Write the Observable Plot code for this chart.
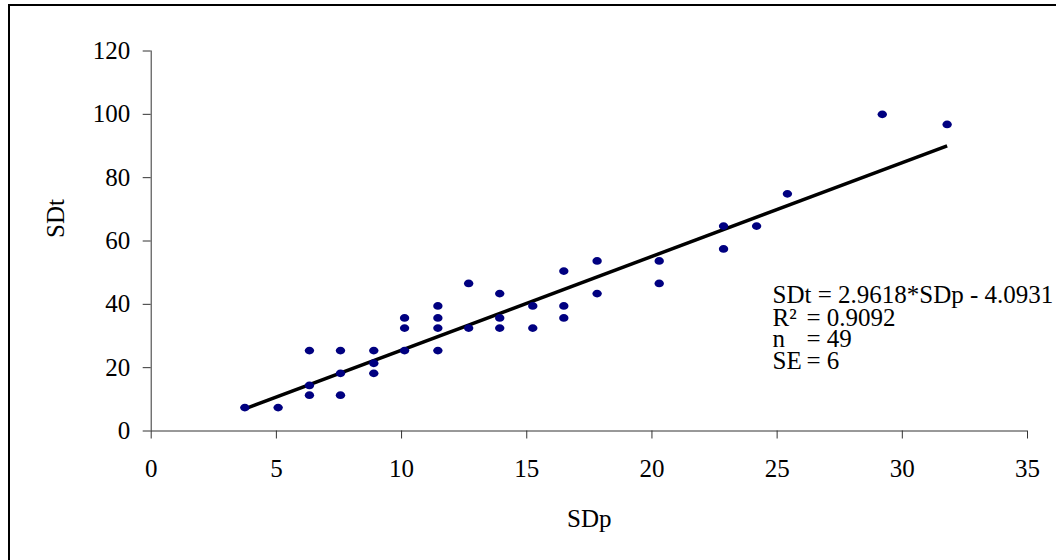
<!DOCTYPE html>
<html>
<head>
<meta charset="utf-8">
<script src="https://cdn.jsdelivr.net/npm/d3@7"></script>
<script src="https://cdn.jsdelivr.net/npm/@observablehq/plot@0.6"></script>
<style>
  html, body { margin: 0; padding: 0; background: #fff; overflow: hidden; }
  #wrap { position: fixed; left: 0; top: 0; width: 1056px; height: 560px; overflow: hidden; background: #fff; }
  #frame { position: absolute; left: 8px; top: 4px; right: 0; bottom: 0; border-top: 2px solid #000; border-left: 2px solid #000; }
  #chart { position: absolute; left: 0; top: 0; }
</style>
</head>
<body>
<div id="wrap"><div id="frame"></div><div id="chart"></div></div>
<script>
// Observed pairs: predicted SD (SDp) and measured SD (SDt)
const sdp = [3.74, 5.07, 6.32, 6.32, 6.32, 7.56, 7.56, 7.56, 8.89, 8.89, 8.89,
             10.12, 10.12, 10.12, 11.45, 11.45, 11.45, 11.45, 12.68, 12.68,
             13.92, 13.92, 13.92, 15.24, 15.24, 16.48, 16.48, 16.48, 17.81, 17.81,
             20.29, 20.29, 22.86, 22.86, 24.18, 25.41, 29.2, 31.79];
const sdt = [7.4, 7.4, 25.4, 14.4, 11.3, 25.4, 18.2, 11.3, 25.4, 21.4, 18.2,
             35.7, 32.5, 25.4, 39.5, 35.7, 32.5, 25.4, 46.6, 32.5,
             43.4, 35.7, 32.5, 39.5, 32.5, 50.5, 39.5, 35.7, 53.7, 43.4,
             53.7, 46.6, 64.7, 57.5, 64.7, 74.9, 100.0, 96.8];

// Fitted regression: SDt = slope * SDp + intercept
const slope = 2.9618;
const intercept = -4.0931;

const xTicks = [0, 5, 10, 15, 20, 25, 30, 35];
const yTicks = [0, 20, 40, 60, 80, 100, 120];

// Regression statistics box
const statLabels = ["SDt", "R²", "n", "SE"];
const statValues = ["= 2.9618*SDp - 4.0931", "= 0.9092", "= 49", "= 6"];

const points = sdp.map((x, i) => ({x, y: sdt[i]}));
const fit = d3.extent(sdp).map(x => ({x, y: slope * x + intercept}));

// Slightly flattened circular marker
const ovalMarker = {
  draw(context, size) {
    const r = Math.sqrt(size / Math.PI);
    const rx = r * 1.12, ry = r * 0.93, k = 0.5523;
    context.moveTo(rx, 0);
    context.bezierCurveTo(rx, ry * k, rx * k, ry, 0, ry);
    context.bezierCurveTo(-rx * k, ry, -rx, ry * k, -rx, 0);
    context.bezierCurveTo(-rx, -ry * k, -rx * k, -ry, 0, -ry);
    context.bezierCurveTo(rx * k, -ry, rx, -ry * k, rx, 0);
    context.closePath();
  }
};

const serif = "'Liberation Serif', 'Times New Roman', serif";
const fs = 25;
const statFs = 25;
const mL = 150.7, mT = 50.5, mR = 29, mB = 129.5;

// Statistics block layout: left column, "=" column and row baselines
const textX = 772 - mL;
const eqX = 806 - mL;
const baseY = [302.7, 325, 346.5, 368].map(v => v - mT);

const statMarks = statLabels.flatMap((label, i) => {
  const common = {frameAnchor: "top-left", textAnchor: "start", lineAnchor: "bottom", dy: baseY[i], fontSize: statFs, fill: "#000"};
  if (i === 0) return [Plot.text([`${label} ${statValues[i]}`], {...common, dx: textX})];
  return [
    Plot.text([label], {...common, dx: textX}),
    Plot.text([statValues[i]], {...common, dx: eqX})
  ];
});

const chart = Plot.plot({
  width: 1056,
  height: 560,
  marginLeft: mL,
  marginRight: mR,
  marginTop: mT,
  marginBottom: mB,
  style: {fontFamily: serif, fontSize: `${fs}px`, color: "#000", background: "transparent", overflow: "visible"},
  x: {domain: [0, 35], label: null},
  y: {domain: [0, 120], label: null},
  marks: [
    Plot.ruleY([0], {stroke: "#333", strokeWidth: 1}),
    Plot.ruleX([0], {stroke: "#333", strokeWidth: 1}),
    Plot.axisX({ticks: xTicks, tickSize: 8, tickPadding: 20, stroke: "#333", strokeOpacity: 1, fill: "#000", fontSize: fs, label: null}),
    Plot.axisY({ticks: yTicks, tickSize: 8, tickPadding: 13, stroke: "#333", strokeOpacity: 1, fill: "#000", fontSize: fs, label: null}),
    Plot.line(fit, {x: "x", y: "y", stroke: "#000", strokeWidth: 3.5, strokeLinecap: "butt"}),
    Plot.dot(points, {x: "x", y: "y", r: 4.2, fill: "#000080", stroke: "none", symbol: ovalMarker}),
    // Axis titles
    Plot.text(["SDp"], {frameAnchor: "bottom", dy: 95.5, lineAnchor: "bottom", fontSize: fs, fill: "#000"}),
    Plot.text(["SDt"], {frameAnchor: "left", dx: 63 - mL, dy: -3, rotate: -90, lineAnchor: "bottom", fontSize: fs, fill: "#000"}),
    ...statMarks
  ]
});
document.getElementById("chart").append(chart);
</script>
</body>
</html>
